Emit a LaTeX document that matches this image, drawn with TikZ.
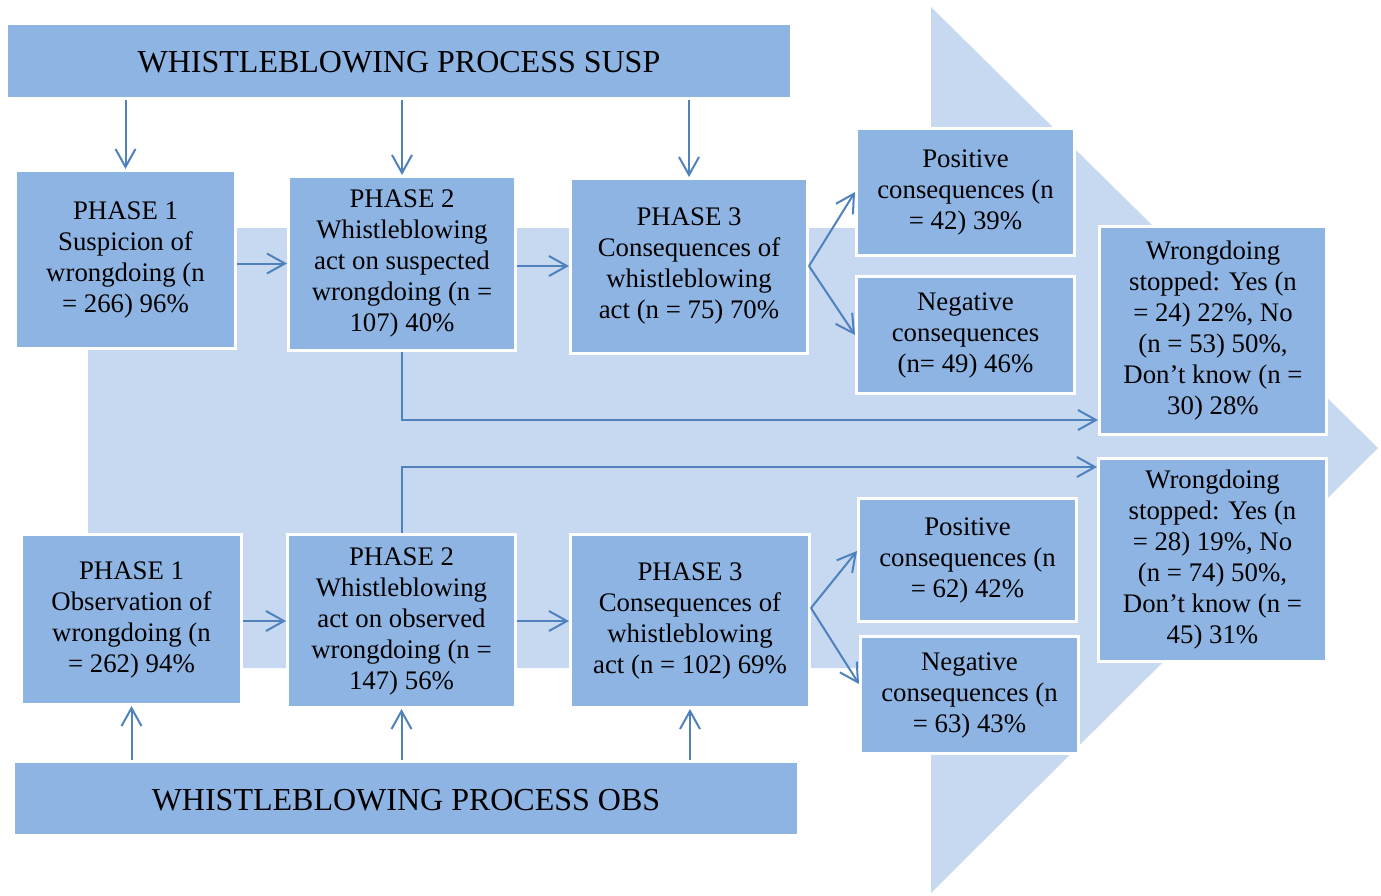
\documentclass[tikz,border=0pt]{standalone}
\usepackage{fontspec}
\setmainfont{Liberation Serif}
\usetikzlibrary{arrows.meta}
\definecolor{boxblue}{HTML}{8EB4E3}
\definecolor{bgblue}{HTML}{C6D9F1}
\definecolor{lineblue}{HTML}{4F81BD}
\tikzset{
    % Colors
    box color/.style={fill=boxblue},
    line color/.style={color=lineblue},
    %
    % Boxes
    box/.style={box color,draw=white,line width=1.5pt,inner sep=0pt,align=center,
        font=\fontsize{13.4}{15.5}\selectfont,execute at begin node={\rule{0pt}{12pt}}},
    header/.style={box,font=\fontsize{16}{19}\selectfont},
    %
    % Arrows
    arrow tip/.tip={Straight Barb[length=9pt,width=10pt]},
    arr/.style={->,>={arrow tip},line color,line width=1pt}
}

\begin{document}
\begin{tikzpicture}[x=0.5pt,y=-0.5pt]
    \useasboundingbox (0,0) rectangle (1381,895);
    % background arrow
    \fill[bgblue] (88,228) -- (931,228) -- (931,7) -- (1378,448) -- (931,893)
        -- (931,668) -- (88,668) -- cycle;

    % suspicion
    \node[header,minimum width=392.5pt,minimum height=37.5pt] (susp) at (399,61) {WHISTLEBLOWING PROCESS SUSP};
    \node[box,minimum width=110pt,minimum height=89pt] (sP1) at (125.5,259.5) {PHASE 1\\Suspicion of\\wrongdoing (n\\= 266) 96\%};
    \node[box,minimum width=113.5pt,minimum height=87pt] (sP2) at (402,263.5) {PHASE 2\\Whistleblowing\\act on suspected\\wrongdoing (n =\\107) 40\%};
    \node[box,minimum width=118.5pt,minimum height=87.5pt] (sP3) at (689,266) {PHASE 3\\Consequences of\\whistleblowing\\act (n = 75) 70\%};
    \node[box,minimum width=109pt,minimum height=63.5pt] (sPos) at (965.5,192) {Positive\\consequences (n\\= 42) 39\%};
    \node[box,minimum width=109pt,minimum height=58.5pt] (sNeg) at (965.5,335) {Negative\\consequences\\(n= 49) 46\%};
    \node[box,minimum width=113.5pt,minimum height=104pt] (sWr) at (1213,330.5) {Wrongdoing\\stopped: Yes (n\\= 24) 22\%, No\\(n = 53) 50\%,\\Don’t know (n =\\30) 28\%};

    % observation
    \node[header,minimum width=392.5pt,minimum height=37pt] (obs) at (406,798.5) {WHISTLEBLOWING PROCESS OBS};
    \node[box,minimum width=110pt,minimum height=85pt] (oP1) at (131.5,619.5) {PHASE 1\\Observation of\\wrongdoing (n\\= 262) 94\%};
    \node[box,minimum width=114pt,minimum height=86.5pt] (oP2) at (401.5,621) {PHASE 2\\Whistleblowing\\act on observed\\wrongdoing (n =\\147) 56\%};
    \node[box,minimum width=119.5pt,minimum height=86.5pt] (oP3) at (690,621) {PHASE 3\\Consequences of\\whistleblowing\\act (n = 102) 69\%};
    \node[box,minimum width=109pt,minimum height=61.5pt] (oPos) at (967.5,560) {Positive\\consequences (n\\= 62) 42\%};
    \node[box,minimum width=109pt,minimum height=58.5pt] (oNeg) at (969.5,695) {Negative\\consequences (n\\= 63) 43\%};
    \node[box,minimum width=114pt,minimum height=101.5pt] (oWr) at (1212.5,560) {Wrongdoing\\stopped: Yes (n\\= 28) 19\%, No\\(n = 74) 50\%,\\Don’t know (n =\\45) 31\%};

    % connectors
    \foreach \n in {sP1,sP2,sP3}
        \draw[arr] (susp.south -| \n.north) -- (\n.north);
    \foreach \n in {oP1,oP2,oP3}
        \draw[arr] (obs.north -| \n.south) -- (\n.south);
    \draw[arr] (sP1.east |- sP2.west) -- (sP2.west);
    \draw[arr] (sP2.east |- sP3.west) -- (sP3.west);
    \draw[arr] (sP3.east) -- (sPos.west);
    \draw[arr] (sP3.east) -- (sNeg.west);
    \draw[arr] (sP2.south) |- (sWr.west |- 0,420);
    \draw[arr] (oP1.east |- oP2.west) -- (oP2.west);
    \draw[arr] (oP2.east |- oP3.west) -- (oP3.west);
    \draw[arr] ([yshift=6.5pt]oP3.east) -- ([yshift=4.5pt]oPos.west);
    \draw[arr] ([yshift=6.5pt]oP3.east) -- ([yshift=5.5pt]oNeg.west);
    \draw[arr] (oP2.north) |- (oWr.west |- 0,467);
\end{tikzpicture}
\end{document}
